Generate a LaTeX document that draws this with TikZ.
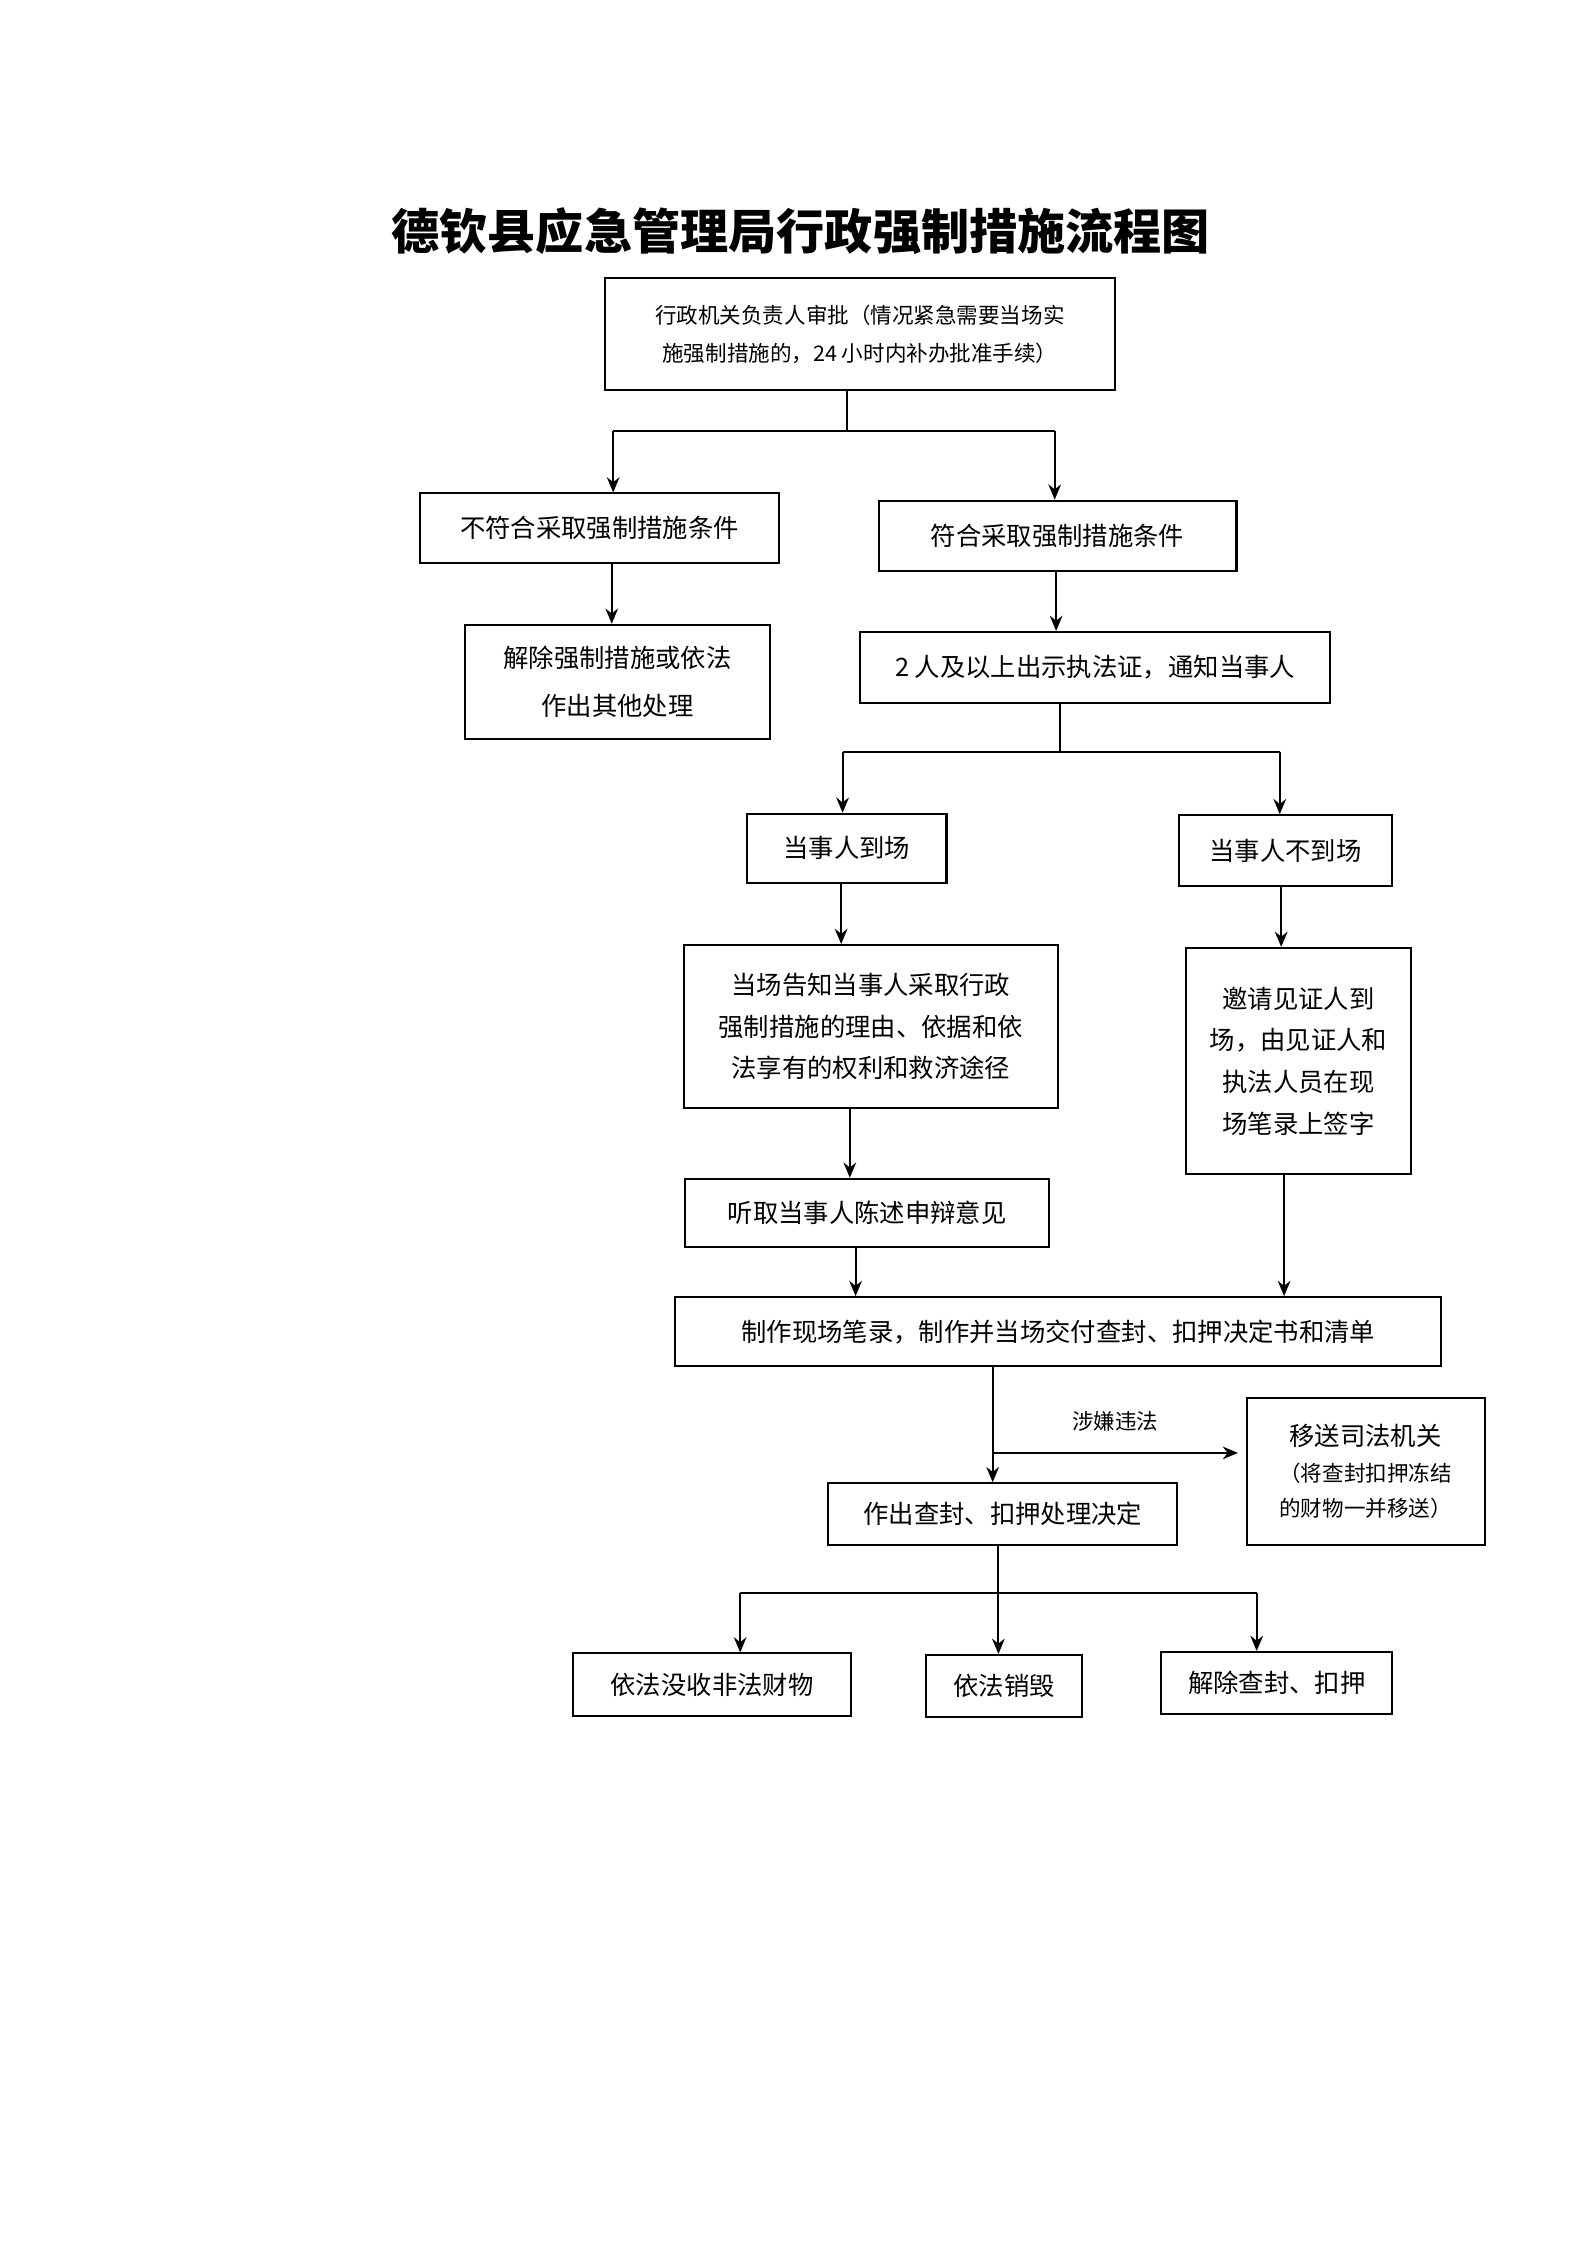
\documentclass[tikz,border=0pt]{standalone}
\usepackage{fontspec}
\setmainfont{Noto Sans CJK SC}
\usetikzlibrary{arrows.meta}
\tikzset{
  box/.style={draw, line width=0.8pt, align=center, inner sep=0pt,
    font=\fontsize{10}{19}\selectfont},
  arr/.style={-{Stealth[length=6pt,width=5pt]}, line width=0.8pt},
  ln/.style={line width=0.8pt}
}
\begin{document}
\begin{tikzpicture}[x=0.02cm, y=-0.02cm]
  \useasboundingbox (0,0) rectangle (1100,1556);

  \node[font=\fontsize{19}{22}\selectfont\bfseries] (title) at (555,160) {德钦县应急管理局行政强制措施流程图};

  \node[box, minimum width=354*0.02cm, minimum height=77*0.02cm, font=\fontsize{8.5}{15}\selectfont] (top) at (596,231.5)
    {行政机关负责人审批（情况紧急需要当场实\\施强制措施的，24 小时内补办批准手续）};
  \node[box, minimum width=249*0.02cm, minimum height=48*0.02cm] (no) at (415.5,366) {不符合采取强制措施条件};
  \node[box, minimum width=248*0.02cm, minimum height=49*0.02cm] (yes) at (733,371.5) {符合采取强制措施条件};
  \node[box, minimum width=212*0.02cm, minimum height=79*0.02cm] (lift) at (428,472.5) {解除强制措施或依法\\作出其他处理};
  \node[box, minimum width=326*0.02cm, minimum height=49*0.02cm] (notify) at (759,462.5) {2 人及以上出示执法证，通知当事人};
  \node[box, minimum width=138*0.02cm, minimum height=48*0.02cm] (here) at (587,588) {当事人到场};
  \node[box, minimum width=148*0.02cm, minimum height=49*0.02cm] (away) at (891,589.5) {当事人不到场};
  \node[box, minimum width=259*0.02cm, minimum height=113*0.02cm, font=\fontsize{10}{16.5}\selectfont] (inform) at (603.5,711.5)
    {当场告知当事人采取行政\\强制措施的理由、依据和依\\法享有的权利和救济途径};
  \node[box, minimum width=156*0.02cm, minimum height=157*0.02cm, font=\fontsize{10}{16.5}\selectfont] (witness) at (900,735.5)
    {邀请见证人到\\场，由见证人和\\执法人员在现\\场笔录上签字};
  \node[box, minimum width=252*0.02cm, minimum height=47*0.02cm] (hear) at (601,840.5) {听取当事人陈述申辩意见};
  \node[box, minimum width=531*0.02cm, minimum height=48*0.02cm] (record) at (733.5,923) {制作现场笔录，制作并当场交付查封、扣押决定书和清单};
  \node[box, minimum width=165*0.02cm, minimum height=102*0.02cm, font=\fontsize{10}{14}\selectfont] (judic) at (946.5,1020)
    {移送司法机关\\{\fontsize{8.5}{14}\selectfont（将查封扣押冻结}\\{\fontsize{8.5}{14}\selectfont 的财物一并移送）}};
  \node[box, minimum width=242*0.02cm, minimum height=43*0.02cm] (decide) at (695,1049.5) {作出查封、扣押处理决定};
  \node[box, minimum width=193*0.02cm, minimum height=43*0.02cm] (confisc) at (493.5,1167.5) {依法没收非法财物};
  \node[box, minimum width=108*0.02cm, minimum height=43*0.02cm] (destroy) at (696,1168.5) {依法销毁};
  \node[box, minimum width=160*0.02cm, minimum height=43*0.02cm] (release) at (885,1166.5) {解除查封、扣押};

  % first split
  \coordinate (j1) at (587,299);
  \draw[ln] (top.south -| j1) -- (j1);
  \draw[ln] (425,299) -- (731,299);
  \draw[arr] (425,299) -- (no.north -| 425,0);
  \draw[arr] (731,299) -- (yes.north -| 731,0);
  \draw[arr] (no.south -| 424,0) -- (lift.north -| 424,0);
  \draw[arr] (yes.south -| 732,0) -- (notify.north -| 732,0);

  % second split
  \coordinate (j2) at (735,521);
  \draw[ln] (notify.south -| j2) -- (j2);
  \draw[ln] (584,521) -- (887,521);
  \draw[arr] (584,521) -- (here.north -| 584,0);
  \draw[arr] (887,521) -- (away.north -| 887,0);
  \draw[arr] (here.south -| 583,0) -- (inform.north -| 583,0);
  \draw[arr] (inform.south -| 589,0) -- (hear.north -| 589,0);
  \draw[arr] (away.south -| 888,0) -- (witness.north -| 888,0);
  \draw[arr] (hear.south -| 593,0) -- (record.north -| 593,0);
  \draw[arr] (witness.south -| 890,0) -- (record.north -| 890,0);

  % decision
  \draw[arr] (record.south -| 688,0) -- (decide.north -| 688,0);
  \coordinate (j3) at (688,1007);
  \draw[arr] (j3) -- node[above=5pt, font=\fontsize{8.5}{10}\selectfont] {涉嫌违法} (858,1007);

  % last split
  \coordinate (j4) at (692,1104);
  \draw[ln] (decide.south -| j4) -- (j4);
  \draw[ln] (513,1104) -- (871,1104);
  \draw[arr] (513,1104) -- (confisc.north -| 513,0);
  \draw[arr] (j4) -- (destroy.north -| j4);
  \draw[arr] (871,1104) -- (release.north -| 871,0);
\end{tikzpicture}
\end{document}
